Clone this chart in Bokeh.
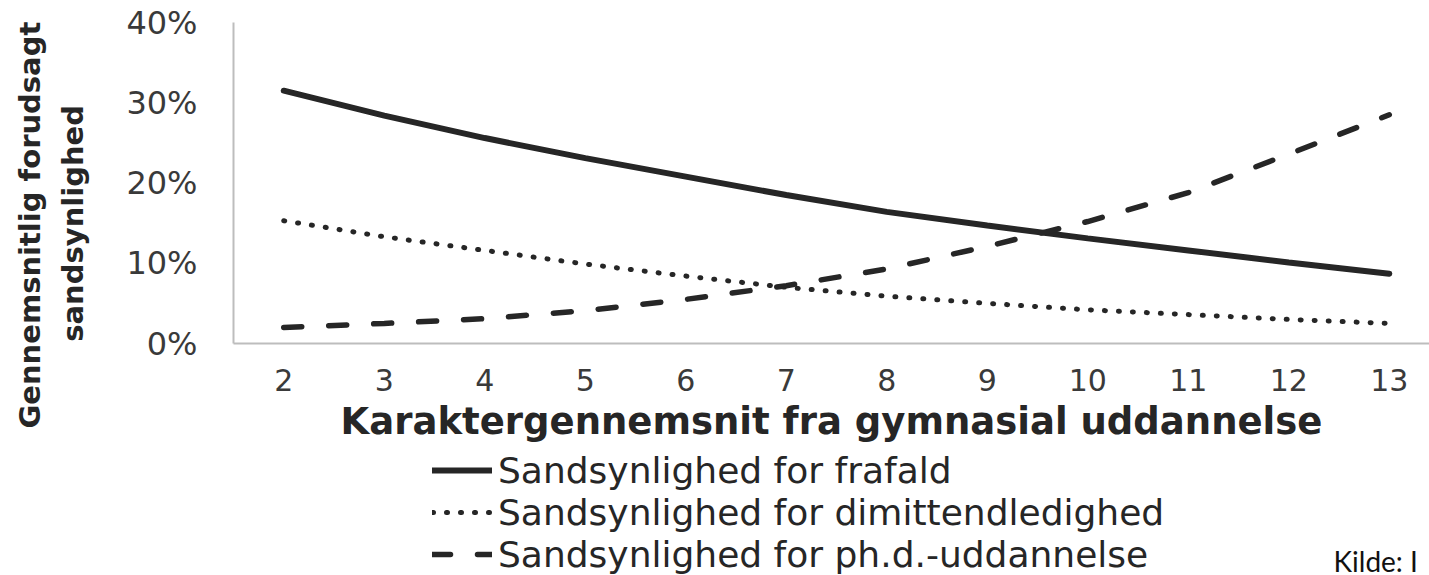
from bokeh.plotting import figure
from bokeh.layouts import column
from bokeh.models import (Range1d, FixedTicker, PrintfTickFormatter, Legend, LegendItem,
                          Label, Title)
from bokeh.embed import file_html
from bokeh.resources import INLINE

# ---- data ----
grades = [2, 3, 4, 5, 6, 7, 8, 9, 10, 11, 12, 13]
frafald = [31.5, 28.4, 25.6, 23.1, 20.8, 18.5, 16.4, 14.7, 13.1, 11.6, 10.1, 8.7]
dimittendledighed = [15.3, 13.3, 11.6, 9.9, 8.4, 7.0, 5.9, 5.0, 4.2, 3.6, 3.0, 2.5]
phd = [2.0, 2.5, 3.1, 4.1, 5.5, 7.2, 9.3, 12.1, 15.2, 18.8, 23.6, 28.5]
y_ticks = [0, 10, 20, 30, 40]
series_labels = ["Sandsynlighed for frafald",
                 "Sandsynlighed for dimittendledighed",
                 "Sandsynlighed for ph.d.-uddannelse"]
x_title = "Karaktergennemsnit fra gymnasial uddannelse"
y_title_lines = ["Gennemsnitlig forudsagt", "sandsynlighed"]
source_text = "Kilde: I"

INK = "#262626"
FONT = "DejaVu Sans"
series = [frafald, dimittendledighed, phd]
styles = [dict(line_width=6, line_cap="round"),
          dict(line_width=5, line_dash="1 13", line_cap="round"),
          dict(line_width=5.5, line_dash="18 27", line_cap="round")]

# ---- main chart ----
p = figure(width=1429, height=449, output_backend="svg", toolbar_location=None,
           x_range=Range1d(1.5, 13.4), y_range=Range1d(0, 40),
           min_border_left=233, min_border_right=0, min_border_top=22,
           min_border_bottom=106)
p.outline_line_color = None
p.grid.visible = False
p.background_fill_color = "white"
p.border_fill_color = "white"

for ax in (p.xaxis[0], p.yaxis[0]):
    ax.axis_line_color = "#bdbdbd"
    ax.axis_line_width = 2
    ax.major_tick_line_color = None
    ax.minor_tick_line_color = None
    ax.major_tick_out = 0
    ax.major_tick_in = 0
    ax.major_label_text_font = FONT
    ax.major_label_text_color = "#3a3a3a"

p.xaxis.ticker = FixedTicker(ticks=grades)
p.xaxis.major_label_text_font_size = "30px"
p.xaxis.major_label_standoff = 25
p.xaxis.axis_label = x_title
p.xaxis.axis_label_text_font = FONT
p.xaxis.axis_label_text_font_style = "bold"
p.xaxis.axis_label_text_font_size = "37px"
p.xaxis.axis_label_text_color = INK
p.xaxis.axis_label_standoff = 6

p.yaxis.ticker = FixedTicker(ticks=y_ticks)
p.yaxis.formatter = PrintfTickFormatter(format="%d%%")
p.yaxis.major_label_text_font_size = "32px"
p.yaxis.major_label_standoff = 36

# inner line of the y-axis title = the axis label (trailing no-break spaces
# shift the centred text down to where the reference has it)
yax = p.yaxis[0]
yax.axis_label = y_title_lines[1] + "\u00a0" * 8
yax.axis_label_text_font = FONT
yax.axis_label_text_font_style = "bold"
yax.axis_label_text_font_size = "29px"
yax.axis_label_text_color = INK
yax.axis_label_standoff = 33

for vals, st in zip(series, styles):
    p.line(grades, vals, line_color=INK, **st)

# outer line of the y-axis title
p.add_layout(Title(text=y_title_lines[0], align="left", offset=-85, standoff=14,
                   vertical_align="bottom",
                   text_font=FONT, text_font_style="bold", text_font_size="29px",
                   text_color=INK), "left")

# ---- legend strip with source note ----
p2 = figure(width=1429, height=126, output_backend="svg", toolbar_location=None,
            x_range=Range1d(0, 1), y_range=Range1d(0, 1),
            x_axis_location=None, y_axis_location=None,
            min_border_left=233, min_border_right=0, min_border_top=0, min_border_bottom=0)
p2.outline_line_color = None
p2.grid.visible = False
p2.background_fill_color = "white"
p2.border_fill_color = "white"

items = []
for vals, st, lab in zip(series, styles, series_labels):
    r = p2.line(grades, vals, line_color=INK, visible=False, **st)
    items.append(LegendItem(label=lab, renderers=[r]))

legend = Legend(items=items, location=(199, 0), orientation="vertical",
                padding=0, margin=0, spacing=0,
                glyph_width=60, glyph_height=42, label_height=42,
                label_standoff=6,
                label_text_font=FONT, label_text_font_size="36px",
                label_text_color=INK, label_text_baseline="middle",
                border_line_color=None, background_fill_alpha=0,
                inactive_fill_alpha=0)
p2.add_layout(legend, "center")

p2.add_layout(Label(x=1100, y=15, x_units="screen", y_units="screen",
                    text=source_text, text_align="left", text_baseline="alphabetic",
                    text_font="Lato", text_font_size="28px",
                    text_color="#111111"))

layout = column(p, p2, spacing=0)
open("out.html", "w").write(file_html(layout, INLINE))
